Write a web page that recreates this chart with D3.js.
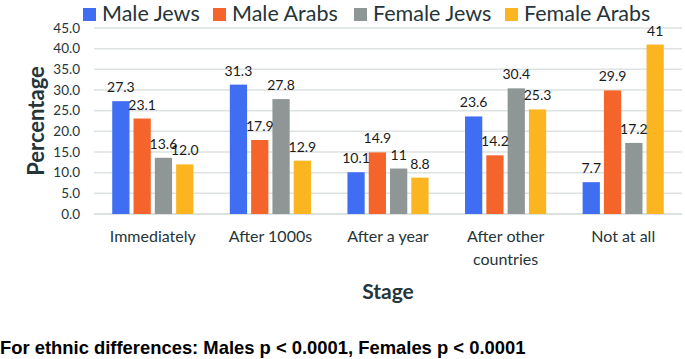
<!DOCTYPE html>
<html>
<head>
<meta charset="utf-8">
<script src="https://cdn.jsdelivr.net/npm/d3@7"></script>
<style>
  body { margin: 0; background: #fff; }
  svg { display: block; }
</style>
</head>
<body>
<div id="chart"></div>
<script>
// data
var stages = ['Immediately', 'After 1000s', 'After a year', 'After other countries', 'Not at all']
var groups = ['Male Jews', 'Male Arabs', 'Female Jews', 'Female Arabs']
var maleJews = [27.3, 31.3, 10.1, 23.6, 7.7]
var maleArabs = [23.1, 17.9, 14.9, 14.2, 29.9]
var femaleJews = [13.6, 27.8, 11, 30.4, 17.2]
var femaleArabs = [12.0, 12.9, 8.8, 25.3, 41]
var valueLabels = [
  ['27.3', '31.3', '10.1', '23.6', '7.7'],
  ['23.1', '17.9', '14.9', '14.2', '29.9'],
  ['13.6', '27.8', '11', '30.4', '17.2'],
  ['12.0', '12.9', '8.8', '25.3', '41']
]
var yTicks = [0, 5, 10, 15, 20, 25, 30, 35, 40, 45]
var colors = ['#3f6ef3', '#f5642b', '#8f9796', '#fbb521']

var series = [maleJews, maleArabs, femaleJews, femaleArabs]

var W = 685, H = 359
var margin = {top: 28, right: 3, bottom: 145, left: 94}
var width = W - margin.left - margin.right
var height = 214 - margin.top
var textCol = '#253539'
var font = 'Lato, "Open Sans", sans-serif'

var svg = d3.select('#chart')
  .append('svg')
  .attr('width', W)
  .attr('height', H)
  .style('font-family', font)

var g = svg.append('g')
  .attr('transform', 'translate(' + margin.left + ',' + margin.top + ')')

var x0 = d3.scaleBand()
  .domain(stages)
  .range([0, width])
  .paddingInner(0)
  .paddingOuter(0)

var x1 = d3.scaleBand()
  .domain(groups)
  .range([x0.bandwidth() * 0.155, x0.bandwidth() * 0.845])
  .paddingInner(0.19)

var y = d3.scaleLinear()
  .domain([0, 45])
  .range([height, 0])

// gridlines
g.append('g')
  .selectAll('line')
  .data(yTicks)
  .enter().append('line')
    .attr('x1', 0)
    .attr('x2', width)
    .attr('y1', function(d) { return y(d) })
    .attr('y2', function(d) { return y(d) })
    .attr('stroke', function(d) { return d === 0 ? '#cfd8d6' : '#dde3e2' })
    .attr('stroke-width', 1.5)

// y axis labels
var yAxis = g.append('g')
  .call(d3.axisLeft(y).tickValues(yTicks).tickFormat(d3.format('.1f')).tickSize(0).tickPadding(14))
yAxis.select('.domain').remove()
yAxis.selectAll('text')
  .style('font-family', font)
  .style('font-size', '13.5px')
  .attr('fill', textCol)

// bars
var stageG = g.selectAll('.stage')
  .data(stages)
  .enter().append('g')
    .attr('class', 'stage')
    .attr('transform', function(d) { return 'translate(' + x0(d) + ',0)' })

function rows(d, i) {
  return groups.map(function(k, j) { return {key: k, value: series[j][i], label: valueLabels[j][i], j: j} })
}

stageG.selectAll('rect')
  .data(rows)
  .enter().append('rect')
    .attr('x', function(d) { return x1(d.key) })
    .attr('width', x1.bandwidth())
    .attr('y', function(d) { return y(d.value) })
    .attr('height', function(d) { return height - y(d.value) })
    .attr('fill', function(d) { return colors[d.j] })

stageG.selectAll('.val')
  .data(rows)
  .enter().append('text')
    .attr('class', 'val')
    .attr('x', function(d) { return x1(d.key) + x1.bandwidth() / 2 })
    .attr('y', function(d) { return y(d.value) - 9 })
    .attr('text-anchor', 'middle')
    .style('font-size', '14px')
    .attr('fill', '#1a1a1a')
    .text(function(d) { return d.label })

// x axis labels
var xAxis = g.append('g')
  .attr('transform', 'translate(0,' + height + ')')
  .call(d3.axisBottom(x0).tickSize(0).tickPadding(17))
xAxis.select('.domain').remove()
xAxis.selectAll('text')
  .style('font-family', font)
  .style('font-size', '16px')
  .attr('fill', textCol)
  .each(function(d) {
    if (d === 'After other countries') {
      var t = d3.select(this)
      t.text(null)
      t.append('tspan').attr('x', 0).text('After other')
      t.append('tspan').attr('x', 0).attr('dy', '1.4em').text('countries')
    }
  })

// axis titles
svg.append('text')
  .attr('transform', 'translate(44,121) rotate(-90)')
  .attr('text-anchor', 'middle')
  .style('font-size', '22px')
  .style('font-weight', 'bold')
  .attr('fill', textCol)
  .text('Percentage')

svg.append('text')
  .attr('x', margin.left + width / 2)
  .attr('y', 299)
  .attr('text-anchor', 'middle')
  .style('font-size', '21px')
  .style('font-weight', 'bold')
  .attr('fill', textCol)
  .text('Stage')

// legend
var legendX = [83, 213, 354, 505]
var legend = svg.selectAll('.legend')
  .data(groups)
  .enter().append('g')
    .attr('class', 'legend')
    .attr('transform', function(d, i) { return 'translate(' + legendX[i] + ',0)' })
legend.append('rect')
  .attr('x', 0).attr('y', 8)
  .attr('width', 13).attr('height', 13)
  .attr('fill', function(d, i) { return colors[i] })
legend.append('text')
  .attr('x', 19).attr('y', 21)
  .style('font-size', '21.5px')
  .attr('fill', textCol)
  .text(function(d) { return d })

// footnote
svg.append('text')
  .attr('x', 0)
  .attr('y', 354)
  .style('font-family', '"Liberation Sans", Arial, sans-serif')
  .style('font-size', '18.4px')
  .style('font-weight', 'bold')
  .attr('fill', '#000')
  .text('For ethnic differences: Males p < 0.0001, Females p < 0.0001')
</script>
</body>
</html>
